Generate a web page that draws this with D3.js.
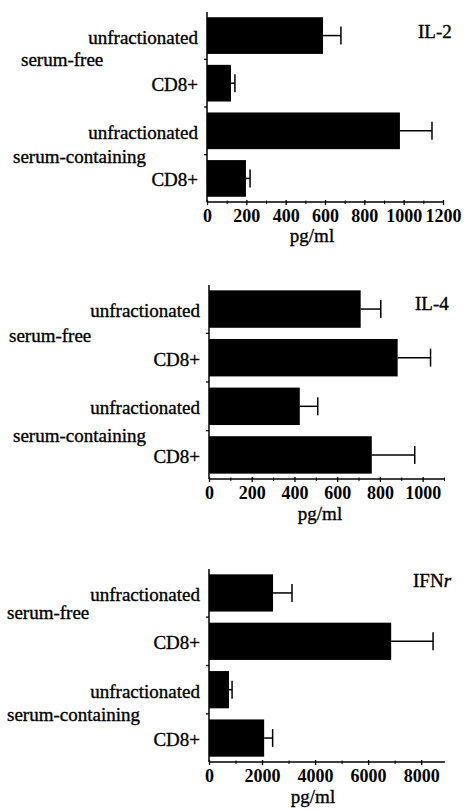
<!DOCTYPE html>
<html>
<head>
<meta charset="utf-8">
<script src="https://cdn.jsdelivr.net/npm/d3@7"></script>
<style>
  body { margin: 0; background: #fff; }
  svg text { font-family: "Liberation Serif", "DejaVu Serif", serif; fill: #000; }
  .lbl { stroke: #000; stroke-width: 0.35px; }
</style>
</head>
<body>
<svg id="chart" width="468" height="811"></svg>
<script>
// data (pg/ml, mean and error bar length)
const barLabels = ["unfractionated", "CD8+", "unfractionated", "CD8+"];
const groupLabels = ["serum-free", "serum-containing"];

const il2Means = [590, 122, 981, 198];
const il2Errors = [91, 20, 163, 21];
const il4Means = [710, 883, 425, 762];
const il4Errors = [94, 154, 84, 201];
const ifnMeans = [2415, 6870, 755, 2080];
const ifnErrors = [715, 1580, 115, 320];

const il2Ticks = [0, 200, 400, 600, 800, 1000, 1200];
const il4Ticks = [0, 200, 400, 600, 800, 1000];
const ifnTicks = [0, 2000, 4000, 6000, 8000];

const svg = d3.select("#chart");

// one panel per cytokine
const panels = [
    { name: "IL-2", means: il2Means, errors: il2Errors, ticks: il2Ticks, minorStep: 100,
      xMax: 1200, x0: 207, x1: 443, top: 12, bottom: 202,
      titleX: 418, titleY: 38, unitX: 312, unitDy: 40,
      groupX: [21, 13], groupDy: [7, 8] },
    { name: "IL-4", means: il4Means, errors: il4Errors, ticks: il4Ticks, minorStep: 100,
      xMax: 1100, x0: 209, x1: 444, top: 285, bottom: 479,
      titleX: 415, titleY: 310, unitX: 320, unitDy: 41,
      groupX: [9, 13], groupDy: [8.5, 11.5] },
    { name: "IFN", italic: "r", means: ifnMeans, errors: ifnErrors, ticks: ifnTicks, minorStep: 1000,
      xMax: 8900, x0: 209, x1: 445, top: 569, bottom: 762,
      titleX: 413, titleY: 587, unitX: 313, unitDy: 41,
      groupX: [7, 7], groupDy: [2, 7.5] }
];

panels.forEach(function(p) {
    drawPanel(p);
});

function drawPanel(p) {
    const x = d3.scaleLinear()
        .domain([0, p.xMax])
        .range([p.x0, p.x1]);

    const y = d3.scaleBand()
        .domain(d3.range(p.means.length))
        .range([p.top, p.bottom])
        .paddingInner(0.23)
        .paddingOuter(0.11);

    const g = svg.append("g");

    // bars
    g.selectAll("rect.bar")
        .data(p.means)
        .join("rect")
        .attr("class", "bar")
        .attr("x", x(0))
        .attr("y", (d, i) => y(i))
        .attr("width", d => x(d) - x(0))
        .attr("height", y.bandwidth())
        .attr("fill", "#000");

    // error bars
    const capHalf = 9;
    p.means.forEach(function(m, i) {
        const cy = y(i) + y.bandwidth() / 2;
        const xe = x(m + p.errors[i]);
        g.append("line")
            .attr("x1", x(m)).attr("x2", xe)
            .attr("y1", cy).attr("y2", cy)
            .attr("stroke", "#000").attr("stroke-width", 1.5);
        g.append("line")
            .attr("x1", xe).attr("x2", xe)
            .attr("y1", cy - capHalf).attr("y2", cy + capHalf)
            .attr("stroke", "#000").attr("stroke-width", 1.5);
    });

    // x axis, major ticks with labels
    const xAxis = d3.axisBottom(x)
        .tickValues(p.ticks)
        .tickSizeInner(3)
        .tickSizeOuter(0)
        .tickFormat(d3.format("d"));

    const ax = g.append("g")
        .attr("transform", `translate(0,${p.bottom})`)
        .call(xAxis);
    ax.attr("font-family", null).attr("font-size", null);
    ax.select(".domain").remove();
    ax.selectAll(".tick line").attr("stroke", "#000").attr("stroke-width", 1.3).attr("y1", -2);
    ax.selectAll(".tick text")
        .attr("y", 7)
        .attr("font-size", 18)
        .attr("font-weight", "bold");

    // minor ticks
    const minor = d3.range(p.minorStep, p.xMax + 1, p.minorStep).filter(v => p.ticks.indexOf(v) < 0);
    const mx = g.append("g")
        .attr("transform", `translate(0,${p.bottom})`)
        .call(d3.axisBottom(x).tickValues(minor).tickSize(2).tickFormat(""));
    mx.select(".domain").remove();
    mx.selectAll(".tick line").attr("stroke", "#000").attr("y1", -1.5);

    // axis lines
    g.append("line")
        .attr("x1", x(0)).attr("x2", x(p.xMax))
        .attr("y1", p.bottom).attr("y2", p.bottom)
        .attr("stroke", "#000").attr("stroke-width", 1.5);
    g.append("line")
        .attr("x1", x(0)).attr("x2", x(0))
        .attr("y1", p.top).attr("y2", p.bottom)
        .attr("stroke", "#000").attr("stroke-width", 1.5);

    // small ticks between the bars on the left axis
    const gap = y.step() - y.bandwidth();
    for (let i = 0; i < p.means.length - 1; i++) {
        const ty = y(i) + y.bandwidth() + gap / 2;
        g.append("line")
            .attr("x1", x(0) - 3).attr("x2", x(0))
            .attr("y1", ty).attr("y2", ty)
            .attr("stroke", "#000").attr("stroke-width", 1.3);
    }

    // bar labels
    g.selectAll("text.barLabel")
        .data(barLabels)
        .join("text")
        .attr("class", "barLabel lbl")
        .attr("x", x(0) - 9)
        .attr("y", (d, i) => y(i) + y.bandwidth() / 2 + 8)
        .attr("text-anchor", "end")
        .attr("font-size", 19)
        .text(d => d);

    // group labels, between the bars of each pair
    groupLabels.forEach(function(label, gi) {
        const i = gi * 2;
        const boundary = y(i) + y.bandwidth() + gap / 2;
        g.append("text")
            .attr("class", "lbl")
            .attr("x", p.groupX[gi])
            .attr("y", boundary + p.groupDy[gi])
            .attr("font-size", 19)
            .text(label);
    });

    // cytokine name
    const title = g.append("text")
        .attr("class", "lbl")
        .attr("x", p.titleX)
        .attr("y", p.titleY)
        .attr("font-size", 19)
        .text(p.name);
    if (p.italic) {
        title.append("tspan").attr("font-style", "italic").text(p.italic);
    }

    // unit
    g.append("text")
        .attr("class", "lbl")
        .attr("x", p.unitX)
        .attr("y", p.bottom + p.unitDy)
        .attr("text-anchor", "middle")
        .attr("font-size", 19)
        .text("pg/ml");
}
</script>
</body>
</html>
